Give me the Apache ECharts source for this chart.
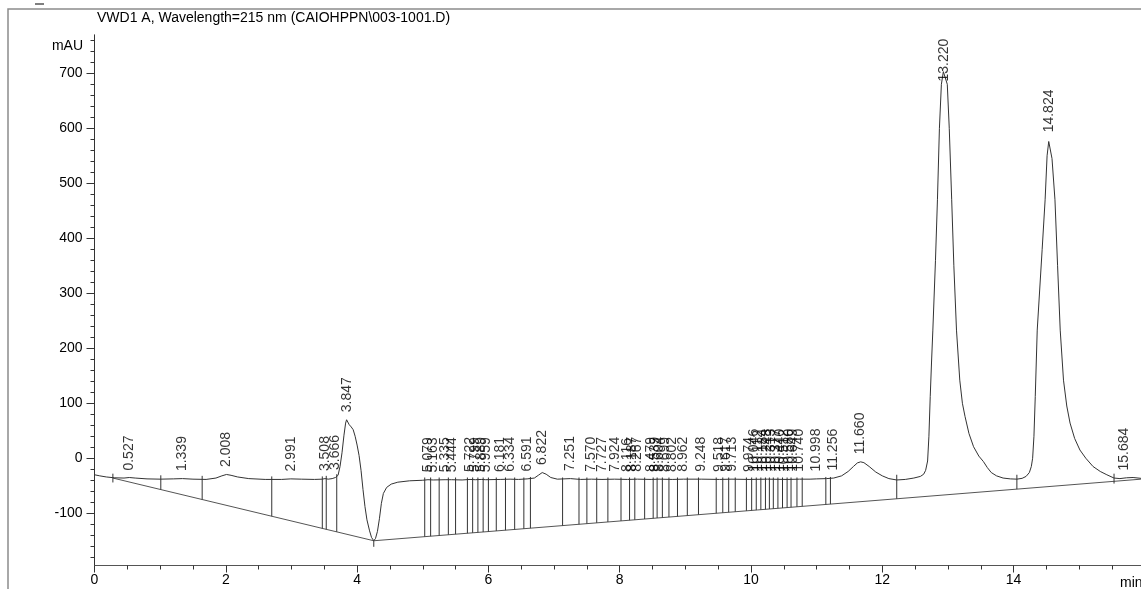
<!DOCTYPE html>
<html>
<head>
<meta charset="utf-8">
<script src="https://cdn.jsdelivr.net/npm/echarts@6/dist/echarts.min.js"></script>
<style>
  html, body { margin: 0; padding: 0; background: #ffffff; }
  #chart { width: 1141px; height: 589px; }
</style>
</head>
<body>
<div id="chart"></div>
<script>
// Detector signal (VWD1 A, 215 nm): retention time in min and absorbance in mAU
const traceTime = [
  0.00, 0.08, 0.18, 0.30, 0.45, 0.53, 0.62, 0.80, 1.00, 1.20, 1.34, 1.50, 1.70, 1.85, 1.94, 2.01,
  2.08, 2.18, 2.35, 2.60, 2.85, 2.99, 3.15, 3.35, 3.47, 3.51, 3.56, 3.62, 3.67, 3.71, 3.74, 3.77,
  3.80, 3.825, 3.84, 3.86, 3.88, 3.91, 3.94, 3.97, 4.00, 4.03, 4.06, 4.09, 4.12, 4.15, 4.19, 4.22,
  4.254, 4.28, 4.31, 4.34, 4.37, 4.40, 4.45, 4.52, 4.62, 4.80, 5.00, 5.08, 5.16, 5.34, 5.44, 5.60,
  5.72, 5.80, 5.89, 5.96, 6.18, 6.33, 6.46, 6.59, 6.70, 6.76, 6.82, 6.88, 6.95, 7.05, 7.25, 7.40,
  7.57, 7.73, 7.92, 8.12, 8.27, 8.48, 8.60, 8.80, 8.97, 9.25, 9.52, 9.71, 9.97, 10.25, 10.55, 10.74,
  10.90, 11.00, 11.15, 11.26, 11.38, 11.48, 11.56, 11.62, 11.67, 11.72, 11.80, 11.90, 12.00, 12.10,
  12.22, 12.35, 12.48, 12.58, 12.63, 12.66, 12.69, 12.71, 12.73, 12.75, 12.77, 12.81, 12.84, 12.87,
  12.90, 12.93, 12.945, 12.96, 12.99, 13.02, 13.057, 13.09, 13.13, 13.18, 13.22, 13.26, 13.32, 13.39,
  13.47, 13.54, 13.60, 13.66, 13.74, 13.84, 13.95, 14.05, 14.13, 14.19, 14.24, 14.27, 14.29, 14.31,
  14.33, 14.36, 14.435, 14.48, 14.51, 14.535, 14.545, 14.56, 14.585, 14.63, 14.67, 14.71, 14.76, 14.81,
  14.86, 14.93, 15.01, 15.10, 15.21, 15.32, 15.42, 15.53, 15.62, 15.72, 15.82, 15.94
];
const traceSignal = [
  -30, -32, -34, -35.5, -36, -35, -36, -37.5, -38, -37.5, -37, -38, -38.5, -36, -32, -29.5,
  -31, -34, -37, -38.5, -38.5, -37.5, -38, -38.5, -38, -37, -38, -37, -35, -31, -15, 10,
  42, 64, 70, 67, 61, 57, 52, 40, 24, 5, -22, -57, -88, -112, -132, -144,
  -150, -146, -133, -110, -82, -64, -53, -47, -43.5, -41, -40, -39, -39.5, -39, -39, -39.5,
  -38.5, -39, -38.5, -39, -38.5, -38, -38.5, -37.5, -36, -31, -26, -29, -35, -38, -37, -38.5,
  -38, -38.5, -38, -38.5, -38, -38.5, -38, -38.5, -38, -38, -38.5, -38, -38.5, -38, -38.5, -38,
  -38, -37.5, -37, -36, -32, -24, -15, -8.5, -6.5, -8, -15, -25, -32, -37,
  -39.5, -38.5, -36, -33, -29, -22, -5, 40, 112, 175, 233, 360, 470, 600,
  680, 703, 706, 703, 680, 600, 470, 350, 233, 142, 100, 76, 45, 21,
  4, -6, -17, -26, -32, -36, -37.5, -38, -36.5, -33, -26, -15, 0, 40,
  112, 233, 380, 470, 550, 576, 579, 574, 545, 470, 350, 233, 142, 95,
  64, 36, 15, 0, -15, -24, -30, -36, -37, -35.5, -35, -36.5
];

// Integrated peaks: printed retention times, apex positions and apex heights
const peakLabels = [
  '0.527', '1.339', '2.008', '2.991', '3.508', '3.666', '3.847',
  '5.079', '5.163', '5.335', '5.444', '5.722', '5.799', '5.889', '5.959',
  '6.181', '6.334', '6.591', '6.822', '7.251', '7.570', '7.727', '7.924',
  '8.116', '8.187', '8.267', '8.479', '8.539', '8.604', '8.699', '8.802', '8.962',
  '9.248', '9.518', '9.617', '9.713', '9.974', '10.046', '10.112', '10.184', '10.248',
  '10.313', '10.377', '10.440', '10.512', '10.580', '10.649', '10.740',
  '10.998', '11.256', '11.660', '13.220', '14.824', '15.684'
];
const peakTimes = [
  0.527, 1.339, 2.008, 2.991, 3.508, 3.666, 3.847,
  5.079, 5.163, 5.335, 5.444, 5.722, 5.799, 5.889, 5.959,
  6.181, 6.334, 6.591, 6.822, 7.251, 7.570, 7.727, 7.924,
  8.116, 8.187, 8.267, 8.479, 8.539, 8.604, 8.699, 8.802, 8.962,
  9.248, 9.518, 9.617, 9.713, 9.974, 10.046, 10.112, 10.184, 10.248,
  10.313, 10.377, 10.440, 10.512, 10.580, 10.649, 10.740,
  10.998, 11.256, 11.660, 12.945, 14.545, 15.684
];
const peakHeights = [
  -36, -37, -29.5, -37.5, -37, -35, 70,
  -39, -39.5, -39, -39, -38.5, -39, -38.5, -39,
  -38.5, -38, -37.5, -26, -37, -38, -38.5, -38,
  -38.5, -38, -38, -38.5, -38, -38, -38.5, -38.5, -38,
  -38, -38.5, -38, -38, -38.5, -38, -38, -38, -38,
  -38, -38, -38, -38.5, -38, -38, -38,
  -37.5, -36, -6.5, 706, 579, -36
];

// Integration baselines (time, mAU end points)
const baselineA = [[0.28, -36], [4.254, -150]];
const baselineB = [[4.254, -150], [15.94, -38]];

// Drop lines between adjacent peaks: time and upper end (mAU)
const dropTimes = [
  1.01, 1.64, 2.70, 3.47, 3.53, 3.69,
  5.03, 5.12, 5.25, 5.39, 5.50, 5.68, 5.76, 5.84, 5.92, 6.00, 6.12, 6.26, 6.40, 6.54, 6.64,
  7.13, 7.38, 7.50, 7.65, 7.82, 8.02, 8.15, 8.23, 8.38, 8.51, 8.57, 8.65, 8.75, 8.88, 9.03,
  9.20, 9.47, 9.57, 9.66, 9.76, 9.93, 10.01, 10.08, 10.15, 10.22, 10.28, 10.34, 10.41,
  10.48, 10.55, 10.61, 10.70, 10.78, 11.14, 11.21, 12.22, 14.05
];
const dropTops = [
  -31, -32, -33, -33, -32, -29,
  -35, -35, -35, -35, -35, -35, -35, -35, -35, -35, -35, -35, -35, -35, -34,
  -35, -35, -35, -35, -35, -35, -35, -35, -35, -35, -35, -35, -35, -35, -35,
  -35, -35, -35, -35, -35, -35, -35, -35, -35, -35, -35, -35, -35,
  -35, -35, -35, -35, -35, -34, -34, -30, -30
];

// Baseline start / end markers: time, upper and lower end (mAU)
const markerTicks = [
  [0.28, -28, -44],
  [4.254, -150, -161],
  [15.53, -28, -46]
];

// Axis ticks
const yTickValues = [-100, 0, 100, 200, 300, 400, 500, 600, 700];
const yMinorValues = [];
for (let v = -180; v <= 760; v += 20) {
  if (v % 100 !== 0) yMinorValues.push(v);
}

const FONT = "'Liberation Sans', Arial, sans-serif";
const INK = '#000000';
const LINE = '#333333';

function baselineAt(t) {
  const seg = t < baselineA[1][0] ? baselineA : baselineB;
  const f = (t - seg[0][0]) / (seg[1][0] - seg[0][0]);
  return seg[0][1] + f * (seg[1][1] - seg[0][1]);
}

const signalData = traceTime.map((t, i) => [t, traceSignal[i]]);
const dropData = dropTimes.map((t, i) => [t, dropTops[i], baselineAt(t)]);
const labelData = peakTimes.map((t, i) => {
  const item = { value: [t, peakHeights[i]], name: peakLabels[i] };
  if (peakLabels[i] === '13.220') item.label = { distance: -12 };
  return item;
});

function verticalSegment(params, api) {
  const p1 = api.coord([api.value(0), api.value(1)]);
  const p2 = api.coord([api.value(0), api.value(2)]);
  return {
    type: 'line',
    shape: { x1: p1[0], y1: p1[1], x2: p2[0], y2: p2[1] },
    style: { stroke: LINE, lineWidth: 1 }
  };
}

const chart = echarts.init(document.getElementById('chart'), null, { renderer: 'canvas' });

chart.setOption({
  animation: false,
  backgroundColor: '#ffffff',
  textStyle: { fontFamily: FONT },
  grid: {
    left: 94.5, top: 34.8, width: 1050.4, height: 530.7,
    containLabel: false, outerBoundsMode: 'none'
  },
  xAxis: {
    type: 'value', min: 0, max: 16, interval: 2,
    axisLine: { onZero: false, lineStyle: { color: '#555555', width: 1 } },
    axisTick: { length: 7, lineStyle: { color: LINE } },
    minorTick: { show: true, splitNumber: 4, length: 4, lineStyle: { color: LINE } },
    axisLabel: { fontSize: 14, color: INK, margin: 8, showMaxLabel: false, fontFamily: FONT },
    splitLine: { show: false },
    minorSplitLine: { show: false }
  },
  yAxis: [
    {
      type: 'value', min: -195, max: 770, position: 'left',
      axisLine: { show: true, onZero: false, lineStyle: { color: LINE, width: 1 } },
      axisTick: { show: true, length: 8, customValues: yTickValues, lineStyle: { color: LINE } },
      axisLabel: { customValues: yTickValues, margin: 12, fontSize: 14, color: INK, fontFamily: FONT },
      splitLine: { show: false }
    },
    {
      type: 'value', min: -195, max: 770, position: 'left',
      axisLine: { show: false },
      axisTick: { show: true, length: 4, customValues: yMinorValues, lineStyle: { color: LINE } },
      axisLabel: { show: false },
      splitLine: { show: false }
    }
  ],
  series: [
    {
      name: 'baseline A', type: 'line', data: baselineA, showSymbol: false, silent: true,
      lineStyle: { color: '#555555', width: 1 }, z: 2
    },
    {
      name: 'baseline B', type: 'line', data: baselineB, showSymbol: false, silent: true,
      lineStyle: { color: '#555555', width: 1 }, z: 2
    },
    {
      name: 'drop lines', type: 'custom', data: dropData, renderItem: verticalSegment,
      silent: true, z: 3
    },
    {
      name: 'markers', type: 'custom', data: markerTicks, renderItem: verticalSegment,
      silent: true, z: 3
    },
    {
      name: 'VWD1 A', type: 'line', data: signalData, showSymbol: false, silent: true,
      lineStyle: { color: LINE, width: 1 }, z: 4
    },
    {
      name: 'peaks', type: 'scatter', data: labelData, symbol: 'circle', symbolSize: 1,
      itemStyle: { color: 'transparent' }, silent: true, z: 5,
      label: {
        show: true, position: 'top', distance: 7, rotate: 90,
        align: 'left', verticalAlign: 'middle',
        formatter: (p) => p.name,
        fontSize: 14, color: INK, fontFamily: FONT
      }
    }
  ],
  graphic: [
    {
      type: 'polyline', silent: true,
      shape: { points: [[8, 589], [8, 9], [1141, 9]] },
      style: { stroke: '#8c8c8c', lineWidth: 1.5, fill: null }
    },
    {
      type: 'line', silent: true,
      shape: { x1: 35, y1: 4, x2: 44, y2: 4 },
      style: { stroke: '#555555', lineWidth: 1.5 }
    },
    {
      type: 'text', silent: true, left: 97, top: 11,
      style: { text: 'VWD1 A, Wavelength=215 nm (CAIOHPPN\\003-1001.D)', font: '14px ' + FONT, fill: INK }
    },
    {
      type: 'text', silent: true, x: 83, y: 46,
      style: { text: 'mAU', font: '14px ' + FONT, fill: INK, textAlign: 'right', textVerticalAlign: 'middle' }
    },
    {
      type: 'text', silent: true, x: 1120, y: 583,
      style: { text: 'min', font: '14px ' + FONT, fill: INK, textAlign: 'left', textVerticalAlign: 'middle' }
    }
  ]
});
</script>
</body>
</html>
